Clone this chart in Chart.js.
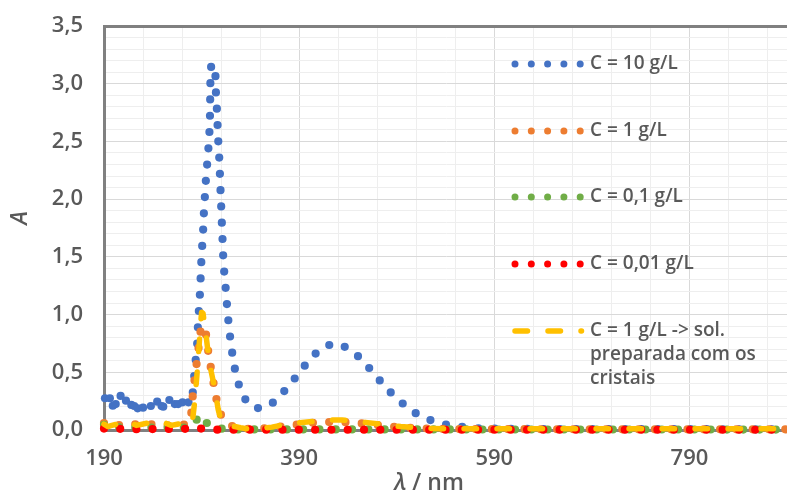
<!DOCTYPE html>
<html><head><meta charset="utf-8">
<script src="https://cdn.jsdelivr.net/npm/chart.js@4/dist/chart.umd.min.js"></script>
<style>html,body{margin:0;padding:0;background:#fff}canvas{display:block}</style>
</head><body>
<canvas id="c" width="787" height="493"></canvas>
<script>
// ---- data (wavelength nm, absorbance) ----
const seriesC10 = [[191,0.275],[196,0.275],[199,0.21],[202,0.225],[207,0.295],[212.5,0.254],[218,0.217],[221,0.208],[224.5,0.188],[230,0.193],[238,0.208],[244.5,0.245],[249,0.208],[250.7,0.202],[257,0.26],[262.6,0.225],[266,0.225],[270.5,0.24],[276.6,0.24],[281,0.327],[282.4,0.46],[284,0.61],[285.5,0.75],[286.2,0.89],[287.2,1.03],[288.2,1.16],[289,1.31],[289.7,1.45],[290.6,1.59],[291.6,1.73],[292.3,1.87],[293.3,2.01],[294.3,2.15],[295.6,2.29],[297,2.44],[298,2.57],[298.6,2.71],[298.8,2.85],[299,3.00],[299.5,3.14],[301,3.17],[303,3.16],[304.2,3.08],[304.6,2.94],[305.6,2.80],[306.3,2.66],[307,2.52],[308,2.38],[308.7,2.24],[309.3,2.10],[310,1.96],[310.7,1.81],[311.4,1.67],[312,1.53],[313,1.39],[314.5,1.25],[315.8,1.11],[317.2,0.97],[318.9,0.83],[321,0.69],[323.6,0.55],[327.4,0.41],[333.5,0.28],[340,0.21],[345,0.19],[352,0.19],[361,0.22],[373,0.32],[384,0.43],[394,0.54],[405,0.65],[418,0.73],[427,0.75],[435,0.73],[448,0.66],[460,0.555],[471,0.445],[482,0.34],[494,0.245],[506,0.16],[522,0.093],[537,0.05],[554,0.03],[571,0.015],[600,0.01],[650,0.008],[700,0.008],[750,0.007],[800,0.007],[850,0.006],[890,0.006]];
const seriesC1 = [[190,0.06],[195,0.07],[200,0.04],[208,0.045],[215,0.04],[222,0.05],[230,0.045],[239,0.05],[248,0.045],[256,0.04],[263,0.05],[270,0.045],[276,0.05],[279,0.10],[281,0.30],[283,0.45],[285,0.58],[287,0.72],[289,0.86],[291,0.89],[293.5,0.90],[295.7,0.75],[298,0.61],[301,0.47],[303.6,0.34],[307,0.19],[311,0.11],[315.5,0.07],[322,0.03],[335,0.01],[346,0.008],[360,0.02],[378,0.035],[395,0.055],[412,0.068],[430,0.07],[445,0.065],[462,0.05],[478,0.035],[495,0.022],[512,0.015],[530,0.01],[560,0.008],[600,0.007],[700,0.006],[800,0.006],[890,0.006]];
const seriesC01 = [[190,0.045],[194,0.02],[200,0.03],[208,0.02],[216,0.03],[224,0.018],[232,0.028],[240,0.02],[248,0.028],[256,0.02],[264,0.025],[272,0.02],[278,0.025],[282,0.05],[285,0.09],[288,0.13],[291,0.10],[294,0.07],[297,0.05],[300,0.05],[304,0.03],[310,0.012],[320,0.005],[890,0.004]];
const seriesC001 = [[190,0.012],[196,0.008],[203,0.015],[210,0.006],[218,0.012],[226,0.005],[234,0.014],[242,0.006],[250,0.012],[258,0.008],[266,0.014],[274,0.01],[280,0.012],[284,0.022],[288,0.015],[294,0.006],[305,0.003],[400,0.002],[600,0.002],[890,0.002]];
const seriesCrist = [[190,0.05],[194,0.03],[198,0.04],[203,0.05],[208,0.03],[213,0.05],[218,0.06],[223,0.04],[229,0.05],[235,0.06],[241,0.04],[247,0.05],[253,0.06],[259,0.04],[265,0.05],[271,0.06],[276,0.04],[279,0.05],[281,0.10],[283,0.25],[285,0.45],[287,0.67],[288.5,0.86],[290,1.02],[291.5,1.01],[293,0.92],[294.3,0.84],[296,0.72],[298,0.60],[300,0.50],[302,0.42],[304.5,0.31],[307,0.18],[310,0.08],[314,0.05],[318,0.04],[324,0.03],[330,0.02],[337,0.01],[345,0.01],[352,0.015],[362,0.025],[374,0.045],[386,0.06],[398,0.07],[410,0.08],[422,0.087],[434,0.086],[446,0.078],[458,0.066],[470,0.055],[482,0.042],[494,0.03],[506,0.022],[520,0.015],[540,0.01],[570,0.01],[620,0.01],[700,0.01],[800,0.01],[890,0.01]];

const seriesLabels = ['C = 10 g/L','C = 1 g/L','C = 0,1 g/L','C = 0,01 g/L','C = 1 g/L -> sol. preparada com os cristais'];
const legendLines = [['C = 10 g/L'],['C = 1 g/L'],['C = 0,1 g/L'],['C = 0,01 g/L'],['C = 1 g/L -> sol.','preparada com os','cristais']];
const seriesColors = ['#4472C4','#ED7D31','#70AD47','#FF0000','#FFC000'];
// wavelength below which the blue series is a noisy baseline (each reading shown as its own dot)
const noisyUpTo = [281, 0, 0, 0, 0];

const xMin = 190, xMax = 890, xMinorStep = 40;
const xMajorTicks = [190, 390, 590, 790];
const yMin = 0, yMax = 3.5, yMinorStep = 0.1;
const yMajorTicks = [0, 0.5, 1, 1.5, 2, 2.5, 3, 3.5];
const xTitleParts = ['λ', ' / nm'];
const yTitle = 'A';

const FONT = "'Open Sans', 'DejaVu Sans', sans-serif";
const TXT = '#595959';
const near = (a, b) => Math.abs(a - b) < 1e-6;
const isIn = (arr, v) => arr.some(t => near(t, v));
const toXY = s => s.map(p => ({x: p[0], y: p[1]}));

const DOT = [0, 16.3];
const DASH = [12.5, 20.5];
const styles = [
  {w: 8.2, dash: DOT}, {w: 8.2, dash: DOT}, {w: 8.2, dash: DOT}, {w: 8.2, dash: DOT}, {w: 5.5, dash: DASH}
];
const allSeries = [seriesC10, seriesC1, seriesC01, seriesC001, seriesCrist];

const datasets = allSeries.map((s, i) => ({
  label: seriesLabels[i],
  data: toXY(s),
  borderColor: seriesColors[i],
  backgroundColor: seriesColors[i],
  borderWidth: styles[i].w,
  borderDash: styles[i].dash,
  borderCapStyle: 'round',
  borderJoinStyle: 'round',
  pointRadius: c => (c.raw && c.raw.x < noisyUpTo[i]) ? 4.1 : 0,
  pointBorderWidth: 0,
  pointBackgroundColor: seriesColors[i],
  segment: {borderColor: c => c.p1.parsed.x <= noisyUpTo[i] ? 'rgba(0,0,0,0)' : undefined},
  fill: false,
  tension: 0,
  clip: 6,
  order: allSeries.length - 1 - i
}));

const decor = {
  id: 'decor',
  afterDraw(chart) {
    const ctx = chart.ctx;
    ctx.save();
    // legend
    const rowsY = [64, 131, 197, 264, 331];
    ctx.font = `600 19px ${FONT}`;
    ctx.textBaseline = 'middle';
    ctx.textAlign = 'left';
    chart.data.datasets.forEach((ds, i) => {
      const y = rowsY[i];
      ctx.save();
      ctx.strokeStyle = ds.borderColor;
      ctx.lineWidth = i === 4 ? ds.borderWidth : 7;
      ctx.lineCap = 'round';
      ctx.setLineDash(ds.borderDash);
      ctx.beginPath();
      ctx.moveTo(515, y);
      ctx.lineTo(581.5, y);
      ctx.stroke();
      ctx.restore();
      ctx.fillStyle = TXT;
      legendLines[i].forEach((ln, k) => ctx.fillText(ln, 590, y + k * 24));
    });
    // y title
    ctx.save();
    ctx.translate(20, 218);
    ctx.rotate(-Math.PI / 2);
    ctx.font = `italic 600 23px ${FONT}`;
    ctx.fillStyle = TXT;
    ctx.textAlign = 'center';
    ctx.textBaseline = 'middle';
    ctx.fillText(yTitle, 0, 0);
    ctx.restore();
    // x title
    ctx.fillStyle = TXT;
    ctx.textBaseline = 'alphabetic';
    ctx.font = `italic 600 23px ${FONT}`;
    const w1 = ctx.measureText(xTitleParts[0]).width;
    ctx.font = `600 23px ${FONT}`;
    const w2 = ctx.measureText(xTitleParts[1]).width;
    let x0 = 429 - (w1 + w2) / 2;
    ctx.font = `italic 600 23px ${FONT}`;
    ctx.fillText(xTitleParts[0], x0, 490);
    ctx.font = `600 23px ${FONT}`;
    ctx.fillText(xTitleParts[1], x0 + w1, 490);
    ctx.restore();
  }
};

new Chart(document.getElementById('c'), {
  type: 'line',
  data: {datasets},
  options: {
    responsive: false,
    animation: false,
    devicePixelRatio: 1,
    events: [],
    layout: {autoPadding: false, padding: {top: 26, left: 0, right: 0, bottom: 0}},
    plugins: {legend: {display: false}, tooltip: {enabled: false}},
    scales: {
      x: {
        type: 'linear', min: xMin, max: xMax,
        afterBuildTicks: s => { const t = []; for (let v = xMin; v <= xMax + 1e-9; v += xMinorStep) t.push({value: v}); s.ticks = t; },
        afterFit: s => { s.height = 63; s.paddingRight = 0; },
        ticks: {autoSkip: false, maxRotation: 0, padding: 16, color: TXT, font: {family: FONT, size: 22, weight: '600'},
          callback: v => isIn(xMajorTicks, v) ? String(Math.round(v)) : ''},
        grid: {drawTicks: false, lineWidth: 1, color: c => (c.tick && isIn(xMajorTicks, c.tick.value)) ? '#d9d9d9' : '#eeeeee'},
        border: {display: true, color: '#808080', width: 3}
      },
      y: {
        type: 'linear', min: yMin, max: yMax,
        afterBuildTicks: s => { const t = []; const n = Math.round((yMax - yMin) / yMinorStep); for (let k = 0; k <= n; k++) t.push({value: +(yMin + k * yMinorStep).toFixed(2)}); s.ticks = t; },
        afterFit: s => { s.width = 104; s.paddingTop = 0; s.paddingBottom = 0; },
        ticks: {autoSkip: false, padding: 21, color: TXT, font: {family: FONT, size: 22, weight: '600'},
          callback: v => isIn(yMajorTicks, v) ? v.toFixed(1).replace('.', ',') : ''},
        grid: {drawTicks: false,
          lineWidth: c => (c.tick && near(c.tick.value, yMax)) ? 3 : 1,
          color: c => !c.tick ? '#eeeeee' : near(c.tick.value, yMax) ? '#808080' : isIn(yMajorTicks, c.tick.value) ? '#d9d9d9' : '#eeeeee'},
        border: {display: true, color: '#808080', width: 3}
      }
    }
  },
  plugins: [decor]
});
</script>
</body></html>
